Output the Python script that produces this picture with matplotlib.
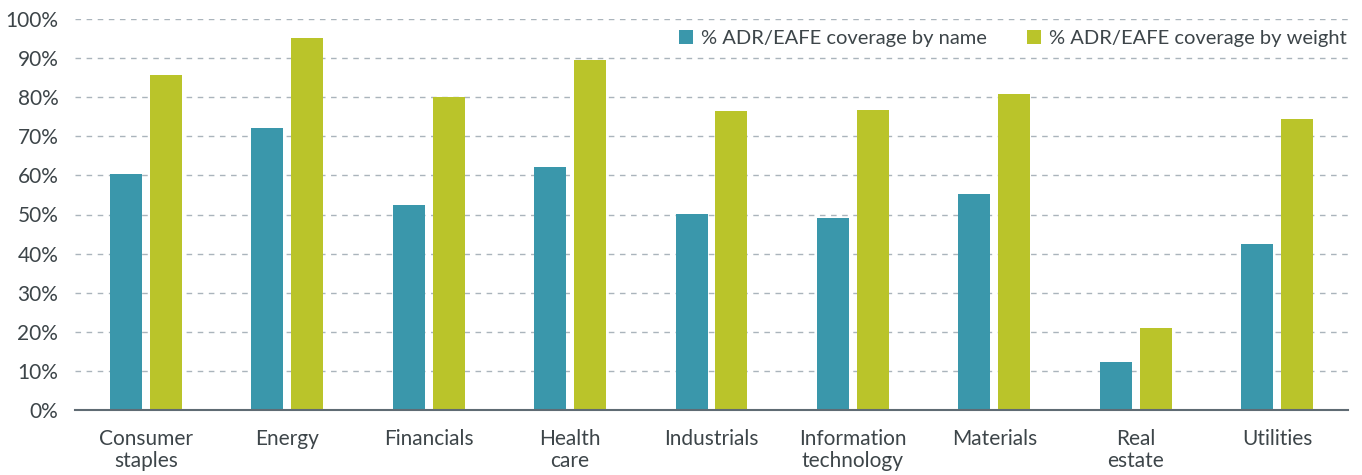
import matplotlib.pyplot as plt
import numpy as np
from matplotlib.ticker import FuncFormatter

categories = ["Consumer\nstaples", "Energy", "Financials", "Health\ncare", "Industrials",
              "Information\ntechnology", "Materials", "Real\nestate", "Utilities"]
by_name = [60.4, 72.1, 52.4, 62.1, 50.1, 49.1, 55.2, 12.3, 42.5]
by_weight = [85.7, 95.1, 80.0, 89.5, 76.5, 76.7, 80.8, 21.0, 74.4]
series_labels = ["% ADR/EAFE coverage by name", "% ADR/EAFE coverage by weight"]

plt.rcParams['font.family'] = ['Lato', 'DejaVu Sans']
txt = '#3d4549'

fig = plt.figure(figsize=(13.62, 4.75), dpi=100)
ax = fig.add_axes([75/1362, 1 - 410/475, (1348-75)/1362, (410-19)/475])

x = np.arange(len(categories))
w = 0.226
off = 0.141
ax.bar(x - off, by_name, w, color='#3a97ab', label=series_labels[0], zorder=3)
ax.bar(x + off, by_weight, w, color='#bac42a', label=series_labels[1], zorder=3)

ax.set_xlim(-0.5, len(categories) - 0.5)
ax.set_ylim(0, 100)
ax.set_yticks(np.arange(0, 101, 10))
ax.yaxis.set_major_formatter(FuncFormatter(lambda v, p: f"{int(v)}%"))
ax.set_xticks(x)
ax.set_xticklabels(categories, fontsize=15, color=txt, linespacing=1.1)
ax.tick_params(axis='y', labelsize=15, colors=txt, length=0, pad=12)
ax.tick_params(axis='x', length=0, pad=14)
ax.grid(axis='y', color='#aab4bc', linestyle=(0, (4, 4)), linewidth=1, zorder=0)
ax.yaxis.get_gridlines()[0].set_visible(False)
for s in ['top', 'right', 'left']:
    ax.spines[s].set_visible(False)
ax.spines['bottom'].set_color('#5f6b73')
ax.spines['bottom'].set_linewidth(1.5)
ax.spines['bottom'].set_zorder(4)

leg = ax.legend(loc='center right', ncol=2, frameon=False, fontsize=14.5, handlelength=0.7,
                handleheight=0.7, handletextpad=0.4, columnspacing=2.0,
                bbox_to_anchor=(0.999, 0.95), borderaxespad=0.0, borderpad=0.0)
for t in leg.get_texts():
    t.set_color(txt)

fig.savefig('out.png', dpi=100)
